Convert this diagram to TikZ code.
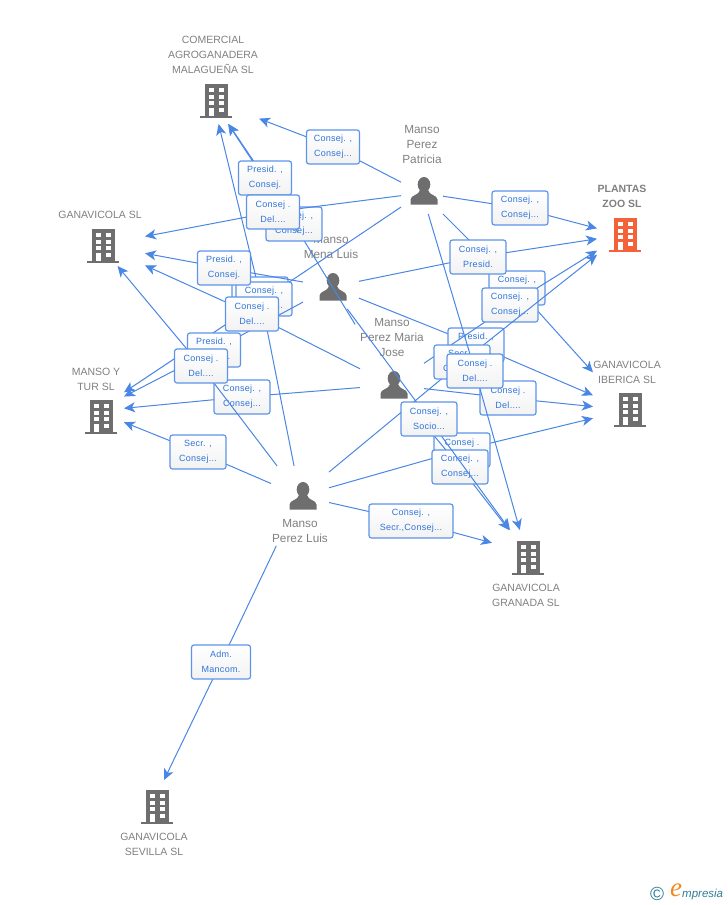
\documentclass[tikz,border=0pt]{standalone}
\usepackage{fontspec}
\setmainfont{Liberation Sans}
\newfontfamily\tagfont[LetterSpace=3]{Liberation Sans}
\newfontfamily\logofont{Liberation Serif}
\usetikzlibrary{arrows.meta}
\definecolor{linkblue}{HTML}{4A86E4}
\definecolor{tagblue}{HTML}{5C94E8}
\definecolor{tagtext}{HTML}{2F74DC}
\definecolor{iconGray}{HTML}{6E6E6E}
\definecolor{nameGray}{HTML}{808080}
\definecolor{plantasRed}{HTML}{F4623A}
\definecolor{logoTeal}{HTML}{2F7C96}
\definecolor{logoOrange}{HTML}{F08A24}
\tikzset{
  hub/.style={inner sep=0pt,outer sep=0pt},
  link/.style={draw=linkblue,line width=1pt,-{Stealth[length=11pt,width=10pt,inset=3pt]}},
  tag/.style={draw=tagblue,line width=1.2pt,rounded corners=2.5pt,top color=white,bottom color=black!5,
    minimum width=56pt,minimum height=34pt,inner sep=0pt,align=center,text=tagtext,
    font=\tagfont\fontsize{9}{15}\selectfont},
  personname/.style={inner sep=0pt,align=center,text=nameGray,font=\fontsize{11.8}{15}\selectfont},
  firmname/.style={inner sep=0pt,align=center,text=nameGray,font=\fontsize{10.5}{15}\selectfont}
}
\newcommand{\building}[2]{
  \begin{scope}[shift={(#1)}]
    \fill[#2] (-11.5,-17) rectangle (11.5,15);
    \fill[#2] (-16,15) rectangle (16,17);
    \foreach \row in {-13.3,-6.3,0.3}{
      \fill[white] (-7,\row) rectangle (-2,\row+4);
      \fill[white] (2.5,\row) rectangle (7.5,\row+4);
    }
    \fill[white] (-7,7) rectangle (-2,15);
    \fill[white] (2.5,7) rectangle (7.5,11);
  \end{scope}
}
\newcommand{\person}[1]{
  \begin{scope}[shift={(#1)}]
    \fill[iconGray] (0,-6.5) ellipse [x radius=6.3,y radius=7.5];
    \fill[iconGray] (-13.5,13.5) -- (-13.5,8.5) .. controls (-13.5,4) and (-5,4.5) .. (-4,-1)
      -- (4,-1) .. controls (5,4.5) and (13.5,4) .. (13.5,8.5) -- (13.5,13.5) -- cycle;
  \end{scope}
}
\begin{document}
\begin{tikzpicture}[x=1pt,y=-1pt]
\useasboundingbox (0,0) rectangle (728,905);

\building{216,101}{iconGray}
\building{103,246}{iconGray}
\building{101,417}{iconGray}
\building{625,235}{plantasRed}
\building{630,410}{iconGray}
\building{528,558}{iconGray}
\building{157,807}{iconGray}
\person{424,191}
\person{333,287}
\person{394,385}
\person{303,496}

\node[hub,minimum width=92pt,minimum height=46pt] (comercial) at (213,101) {};
\node[hub,minimum width=90pt,minimum height=42pt] (ganavicola) at (100,245) {};
\node[hub,minimum width=56pt,minimum height=46pt] (mansotur) at (96,411) {};
\node[hub,minimum width=50pt,minimum height=46pt] (plantas) at (622,235) {};
\node[hub,minimum width=68pt,minimum height=90pt] (iberica) at (627,410) {};
\node[hub,minimum width=68pt,minimum height=44pt] (granada) at (526,552) {};
\node[hub,minimum width=40pt,minimum height=54pt] (sevilla) at (151,807) {};
\node[hub,minimum width=42pt,minimum height=42pt] (patricia) at (422,193) {};
\node[hub,minimum width=56pt,minimum height=44pt] (mena) at (331,287) {};
\node[hub,minimum width=64pt,minimum height=58pt] (maria) at (392,385) {};
\node[hub,minimum width=58pt,minimum height=60pt] (luis) at (300,496) {};

\node[firmname] (comercialName) at (213,55) {COMERCIAL\\AGROGANADERA\\MALAGUEÑA SL};
\node[firmname] (ganavicolaName) at (100,215) {GANAVICOLA SL};
\node[firmname] (mansoturName) at (96,379) {MANSO Y\\TUR SL};
\node[firmname,font=\bfseries\fontsize{10.5}{15}\selectfont] (plantasName) at (622,196) {PLANTAS\\ZOO SL};
\node[firmname] (ibericaName) at (627,372) {GANAVICOLA\\IBERICA SL};
\node[firmname] (granadaName) at (526,595) {GANAVICOLA\\GRANADA SL};
\node[firmname] (sevillaName) at (154,844) {GANAVICOLA\\SEVILLA SL};
\node[personname] (patriciaName) at (422,144) {Manso\\Perez\\Patricia};
\node[personname] (menaName) at (331,247) {Manso\\Mena Luis};
\node[personname] (mariaName) at (392,337) {Manso\\Perez Maria\\Jose};
\node[personname] (luisName) at (300,531) {Manso\\Perez Luis};

\draw[link] (patricia) -- (517,288) -- (iberica);
\node[tag] (patIberica) at (517,288) {Consej. ,\\Consej...};
\draw[link] (mena) -- (478,257) -- (plantas);
\node[tag] (menaPlantas) at (478,257) {Consej. ,\\Presid.};
\draw[link] (mena) -- (476,345) -- (iberica);
\node[tag] (menaIberica) at (476,345) {Presid. ,\\Consej.};
\draw[link] (maria) -- (510,305) -- (plantas);
\node[tag] (mariaPlantas) at (510,305) {Consej. ,\\Consej...};
\draw[link] (maria) -- (508,398) -- (iberica);
\node[tag] (mariaIberica) at (508,398) {Consej .\\Del....};
\draw[link] (luis) -- (462,362) -- (plantas);
\node[tag] (luisPlantas) at (462,362) {Secr. ,\\Consej...};
\draw[link] (patricia) -- (475,371) -- (granada);
\node[tag] (patGranada) at (475,371) {Consej .\\Del....};
\draw[link] (patricia) -- (520,208) -- (plantas);
\node[tag] (patPlantas) at (520,208) {Consej. ,\\Consej...};
\draw[link] (luis) -- (462,450) -- (iberica);
\node[tag] (luisIberica) at (462,450) {Consej .\\Del....};
\draw[link] (maria) -- (460,467) -- (granada);
\node[tag] (mariaGranada) at (460,467) {Consej. ,\\Consej...};
\draw[link] (mena) -- (429,419) -- (granada);
\node[tag] (menaGranada) at (429,419) {Consej. ,\\Socio...};
\draw[link] (luis) -- (411,521) -- (granada);
\node[tag,minimum width=84pt] (luisGranada) at (411,521) {Consej. ,\\Secr.,Consej...};
\draw[link,shorten <=22pt] (luis) -- (221,662) -- (sevilla);
\node[tag,minimum width=59pt] (luisSevilla) at (221,662) {Adm.\\Mancom.};

\draw[link,shorten <=37pt] (maria) -- (294,224) -- (comercial);
\node[tag] (mariaComercial) at (294,224) {Consej. ,\\Consej...};
\draw[link,shorten <=38pt] (mena) -- (265,178) -- (comercial);
\node[tag,minimum width=53pt] (menaComercial) at (265,178) {Presid. ,\\Consej.};
\draw[link] (patricia) -- (273,212) -- (ganavicola);
\node[tag,minimum width=53pt] (patGanavicola) at (273,212) {Consej .\\Del....};
\draw[link] (patricia) -- (333,147) -- (comercial);
\node[tag,minimum width=53pt] (patComercial) at (333,147) {Consej. ,\\Consej...};
\draw[link] (luis) -- (260,294) -- (comercial);
\node[tag] (luisComercial) at (260,294) {Consej. ,\\Consej...};
\draw[link] (patricia) -- (264,299) -- (mansotur);
\node[tag] (patManso) at (264,299) {Consej. ,\\Consej...};
\draw[link] (mena) -- (224,268) -- (ganavicola);
\node[tag,minimum width=53pt] (menaGanavicola) at (224,268) {Presid. ,\\Consej.};
\draw[link] (mena) -- (214,350) -- (mansotur);
\node[tag,minimum width=53pt] (menaManso) at (214,350) {Presid. ,\\Consej.};
\draw[link] (maria) -- (252,314) -- (ganavicola);
\node[tag,minimum width=53pt] (mariaGanavicola) at (252,314) {Consej .\\Del....};
\draw[link] (maria) -- (242,397) -- (mansotur);
\node[tag] (mariaManso) at (242,397) {Consej. ,\\Consej...};
\draw[link] (luis) -- (201,366) -- (ganavicola);
\node[tag,minimum width=53pt] (luisGanavicola) at (201,366) {Consej .\\Del....};
\draw[link] (luis) -- (198,452) -- (mansotur);
\node[tag] (luisManso) at (198,452) {Secr. ,\\Consej...};

\node[inner sep=0pt,text=logoTeal,font=\fontsize{19}{19}\selectfont] (logoMark) at (657,894) {©};
\node[inner sep=0pt,text=logoOrange,font=\logofont\itshape\fontsize{27}{27}\selectfont] (logoE) at (676,890) {e};
\node[inner sep=0pt,anchor=west,text=logoTeal,font=\itshape\fontsize{11.5}{14}\selectfont] (logoText) at (682,895) {mpresia};

\end{tikzpicture}
\end{document}
